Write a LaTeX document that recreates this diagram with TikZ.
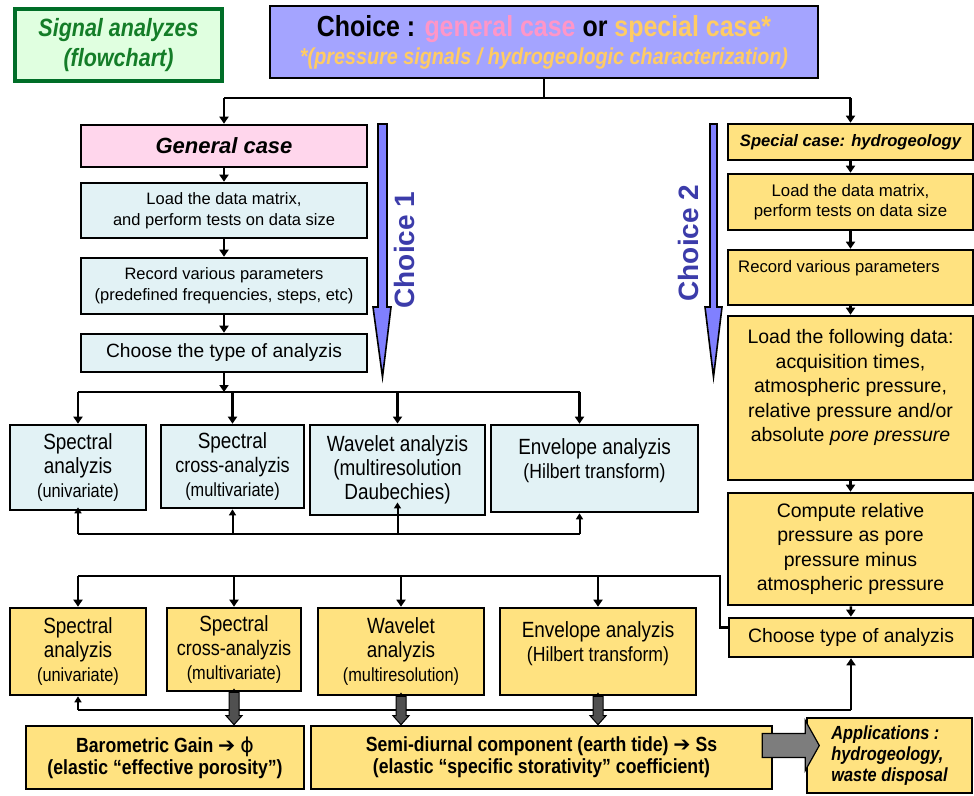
\documentclass[tikz,border=0pt]{standalone}
\usepackage{fontspec}
\setmainfont{Liberation Sans}
\newfontfamily\narrowfont[FakeStretch=0.86]{Liberation Sans}
\newfontfamily\symfont{DejaVu Sans}
\usetikzlibrary{arrows.meta,calc}

\definecolor{sigfill}{RGB}{224,255,224}
\definecolor{sigline}{RGB}{0,110,40}
\definecolor{sigtext}{RGB}{20,125,40}
\definecolor{choicefill}{RGB}{164,164,255}
\definecolor{genpink}{RGB}{255,150,200}
\definecolor{genfill}{RGB}{255,214,236}
\definecolor{specorange}{RGB}{255,204,100}
\definecolor{genblue}{RGB}{226,242,245}
\definecolor{hydroyellow}{RGB}{255,226,128}
\definecolor{arrblue}{RGB}{128,128,255}
\definecolor{choicetxt}{RGB}{60,60,170}
\definecolor{fatgray}{RGB}{80,80,80}
\definecolor{biggray}{RGB}{125,125,125}

\tikzset{
  box/.style={draw=black, line width=2.6pt, align=center, inner sep=2pt},
  genbox/.style={box, fill=genblue},
  hydbox/.style={box, fill=hydroyellow},
  flow/.style={line width=2.4pt, -{Triangle[length=7pt,width=9pt]}},
  wire/.style={line width=2.4pt},
  back/.style={line width=2pt, -{Triangle[length=6pt,width=7pt]}},
  fatarr/.style={draw=black, line width=1pt, fill=fatgray},
  choicearr/.style={draw=black, line width=1.6pt, fill=arrblue},
  choicelbl/.style={rotate=90, text=choicetxt, font=\bfseries\fontsize{28}{30}\selectfont},
  smallbox/.style={font=\narrowfont\fontsize{22}{24}\selectfont}
}

\newcommand\fatarrow[2]{%
  \draw[fatarr] ($(#1)+(-5,0)$) -- ($(#2)+(-5,-9)$) -- ($(#2)+(-8,-9)$) -- (#2)
    -- ($(#2)+(8,-9)$) -- ($(#2)+(5,-9)$) -- ($(#1)+(5,0)$) -- cycle;}
\newcommand\sub[1]{{\fontsize{19}{24}\selectfont #1}}

\begin{document}
\begin{tikzpicture}[x=1pt,y=-1pt]
			%%%%% START %%%%%
			\useasboundingbox (0,0) rectangle (974,795);
			
			\node[box, fill=sigfill, draw=sigline, line width=3.6pt, minimum width=207, minimum height=72,
			      text=sigtext, font=\narrowfont\bfseries\itshape\fontsize{25}{30}\selectfont] (sig) at (118.5,45)
			      {Signal analyzes\\(flowchart)};
			
			\node[box, fill=choicefill, minimum width=548, minimum height=72] (choice) at (544,42)
			      {{\narrowfont\bfseries\fontsize{29}{31}\selectfont Choice : \textcolor{genpink}{general case} or \textcolor{specorange}{special case*}}\\[4pt]
			       {\narrowfont\bfseries\itshape\fontsize{23}{29}\selectfont\color{specorange}*(pressure signals / hydrogeologic characterization)}};
			
			%% general case
			\node[box, fill=genfill, minimum width=286, minimum height=42, font=\bfseries\itshape\fontsize{22}{24}\selectfont] (gen) at (224,146) {General case};
			\node[genbox, minimum width=286, minimum height=55, font=\fontsize{16.5}{21}\selectfont] (gload) at (224,210.5) {Load the data matrix,\\and perform tests on data size};
			\node[genbox, minimum width=286, minimum height=56, font=\fontsize{16.5}{21}\selectfont] (grec) at (224,286) {Record various parameters\\(predefined frequencies, steps, etc)};
			\node[genbox, minimum width=286, minimum height=38, font=\fontsize{19.2}{22}\selectfont] (gtype) at (224,353) {Choose the type of analyzis};
			
			\node[genbox, smallbox, minimum width=136, minimum height=85] (bspec) at (78,467.5)
			      {Spectral\\analyzis\\\sub{(univariate)}};
			\node[genbox, smallbox, minimum width=143, minimum height=83] (bcross) at (232.5,466.5)
			      {Spectral\\{\fontsize{21}{24}\selectfont cross-analyzis}\\\sub{(multivariate)}};
			\node[genbox, smallbox, line width=2.9pt, minimum width=175, minimum height=90] (bwave) at (397.5,470)
			      {Wavelet analyzis\\(multiresolution\\Daubechies)};
			\node[genbox, smallbox, minimum width=207, minimum height=87] (benv) at (594.5,468.5)
			      {Envelope analyzis\\{\fontsize{20.5}{24}\selectfont(Hilbert transform)}\\[-4pt]};
			
			%% special case
			\node[hydbox, minimum width=245, minimum height=36, font=\bfseries\itshape\fontsize{16.6}{18}\selectfont] (spec) at (850.5,142) {Special case: hydrogeology};
			\node[hydbox, minimum width=245, minimum height=56, font=\fontsize{16.8}{20}\selectfont] (sload) at (850.5,202) {Load the data matrix,\\perform tests on data size};
			\node[hydbox, minimum width=245, minimum height=55,
			      label={[anchor=north west, xshift=8pt, yshift=-8pt, font=\fontsize{16.7}{20}\selectfont]north west:Record various parameters}] (srec) at (850.5,277.5) {};
			\node[hydbox, minimum width=245, minimum height=164, font=\fontsize{19.5}{24.5}\selectfont] (sdata) at (850.5,398)
			      {Load the following data:\\acquisition times,\\atmospheric pressure,\\relative pressure and/or\\absolute \emph{pore pressure}\\[0pt]};
			\node[hydbox, minimum width=245, minimum height=112, font=\fontsize{19.5}{24.5}\selectfont] (scomp) at (850.5,549)
			      {Compute relative\\pressure as pore\\pressure minus\\atmospheric pressure};
			\node[hydbox, minimum width=244, minimum height=39, font=\fontsize{19.4}{22}\selectfont] (ytype) at (851,637.5) {Choose type of analyzis};
			
			\node[hydbox, smallbox, minimum width=136, minimum height=87] (yspec) at (78,651.5)
			      {Spectral\\analyzis\\\sub{(univariate)}};
			\node[hydbox, smallbox, minimum width=134, minimum height=83] (ycross) at (234,649.5)
			      {Spectral\\{\fontsize{21}{24}\selectfont cross-analyzis}\\\sub{(multivariate)}};
			\node[hydbox, smallbox, minimum width=166, minimum height=87] (ywave) at (401,651.5)
			      {Wavelet\\analyzis\\\sub{(multiresolution)}};
			\node[hydbox, smallbox, minimum width=196, minimum height=87] (yenv) at (598,651.5)
			      {Envelope analyzis\\{\fontsize{20.5}{24}\selectfont(Hilbert transform)}\\[-4pt]};
			
			\node[hydbox, minimum width=278, minimum height=63, font=\narrowfont\bfseries\fontsize{20.5}{22}\selectfont] (baro) at (165,757.5)
			      {Barometric Gain {\symfont ➔} {\symfont\mdseries ϕ}\\(elastic “effective porosity”)};
			\node[hydbox, minimum width=461, minimum height=63, font=\narrowfont\bfseries\fontsize{20.5}{22}\selectfont] (semi) at (541.5,757.5)
			      {Semi-diurnal component (earth tide) {\symfont ➔} Ss\\(elastic “specific storativity” coefficient)};
			\node[hydbox, minimum width=165, minimum height=75, align=left, inner sep=4pt,
			      font=\narrowfont\bfseries\itshape\fontsize{19}{21}\selectfont] (apps) at (889.5,755.5)
			      {Applications :\\hydrogeology,\\waste disposal};
			
			%% choice arrows
			\draw[choicearr] (378,124) -- (387,124) -- (387,307) -- (391,307) -- (382.5,377) -- (373,307) -- (378,307) -- cycle;
			\node[choicelbl] (ch1) at (404,250) {Choice 1};
			\draw[choicearr] (710,124) -- (717,124) -- (717,307) -- (722,307) -- (713.5,377) -- (705,307) -- (710,307) -- cycle;
			\node[choicelbl] (ch2) at (688,243) {Choice 2};
			
			%% connectors
			\coordinate (tbus) at (544,98);
			\draw[wire] (choice.south) -- (tbus);
			\draw[wire] (gen.north |- tbus) -- (spec.north |- tbus);
			\draw[flow] (gen.north |- tbus) -- (gen.north);
			\draw[flow] (spec.north |- tbus) -- (spec.north);
			
			\draw[flow] (gen) -- (gload);
			\draw[flow] (gload) -- (grec);
			\draw[flow] (grec) -- (gtype);
			
			\coordinate (gbus) at (224,392);
			\coordinate (envtop) at ([xshift=-15pt]benv.north);
			\coordinate (envbot) at ([xshift=-15pt]benv.south);
			\coordinate (wavein) at ([yshift=14pt]bwave.south);
			\draw[flow] (gtype.south) -- (gbus);
			\draw[wire] (bspec.north |- gbus) -- (envtop |- gbus);
			\draw[flow] (bspec.north |- gbus) -- (bspec.north);
			\draw[flow] (bcross.north |- gbus) -- (bcross.north);
			\draw[flow] (bwave.north |- gbus) -- (bwave.north);
			\draw[flow] (envtop |- gbus) -- (envtop);
			
			\coordinate (gfeed) at (224,534);
			\draw[line width=2pt] (bspec.south |- gfeed) -- (envbot |- gfeed);
			\draw[back] (bspec.south |- gfeed) -- ([yshift=4pt]bspec.south);
			\draw[back] (bcross.south |- gfeed) -- (bcross.south);
			\draw[back] (bwave.south |- gfeed) -- (wavein);
			\draw[back] (envbot |- gfeed) -- (envbot);
			
			\draw[flow] (spec) -- (sload);
			\draw[flow] (sload) -- (srec);
			\draw[flow] (srec) -- (sdata);
			\draw[flow] (sdata) -- (scomp);
			\draw[flow] (scomp) -- (ytype);
			
			\coordinate (ybus) at (720,576);
			\draw[wire] ([yshift=10pt]ytype.west) -| (ybus) -- (yspec.north |- ybus);
			\draw[flow] (yspec.north |- ybus) -- (yspec.north);
			\draw[flow] (ycross.north |- ybus) -- (ycross.north);
			\draw[flow] (ywave.north |- ybus) -- (ywave.north);
			\draw[flow] (yenv.north |- ybus) -- (yenv.north);
			
			\coordinate (yfeed) at (78,710);
			\draw[wire] (yspec.south |- yfeed) -- (ytype.south |- yfeed);
			\draw[flow] (ytype.south |- yfeed) -- (ytype.south);
			\draw[back] (yspec.south |- yfeed) -- (yspec.south);
			\draw[back] (ycross.south |- yfeed) -- ([yshift=4pt]ycross.south);
			\draw[back] (ywave.south |- yfeed) -- ([yshift=4pt]ywave.south);
			\draw[back] (yenv.south |- yfeed) -- ([yshift=4pt]yenv.south);
			
			\coordinate (baroin) at (ycross.south |- baro.north);
			\coordinate (wavesemi) at (ywave.south |- semi.north);
			\coordinate (envsemi) at (yenv.south |- semi.north);
			\fatarrow{ycross.south}{baroin}
			\fatarrow{ywave.south}{wavesemi}
			\fatarrow{yenv.south}{envsemi}
			
			\coordinate (bigarr) at ([xshift=-11pt, yshift=12pt]semi.east);
			\draw[draw=black, line width=1.2pt, fill=biggray] (bigarr) -- ++(0,-12) -- ++(43,0) -- ++(0,-13) -- ++(14,25)
			      -- ++(-14,25) -- ++(0,-13) -- ++(-43,0) -- cycle;
			%%%%% END %%%%%
\end{tikzpicture}
\end{document}
